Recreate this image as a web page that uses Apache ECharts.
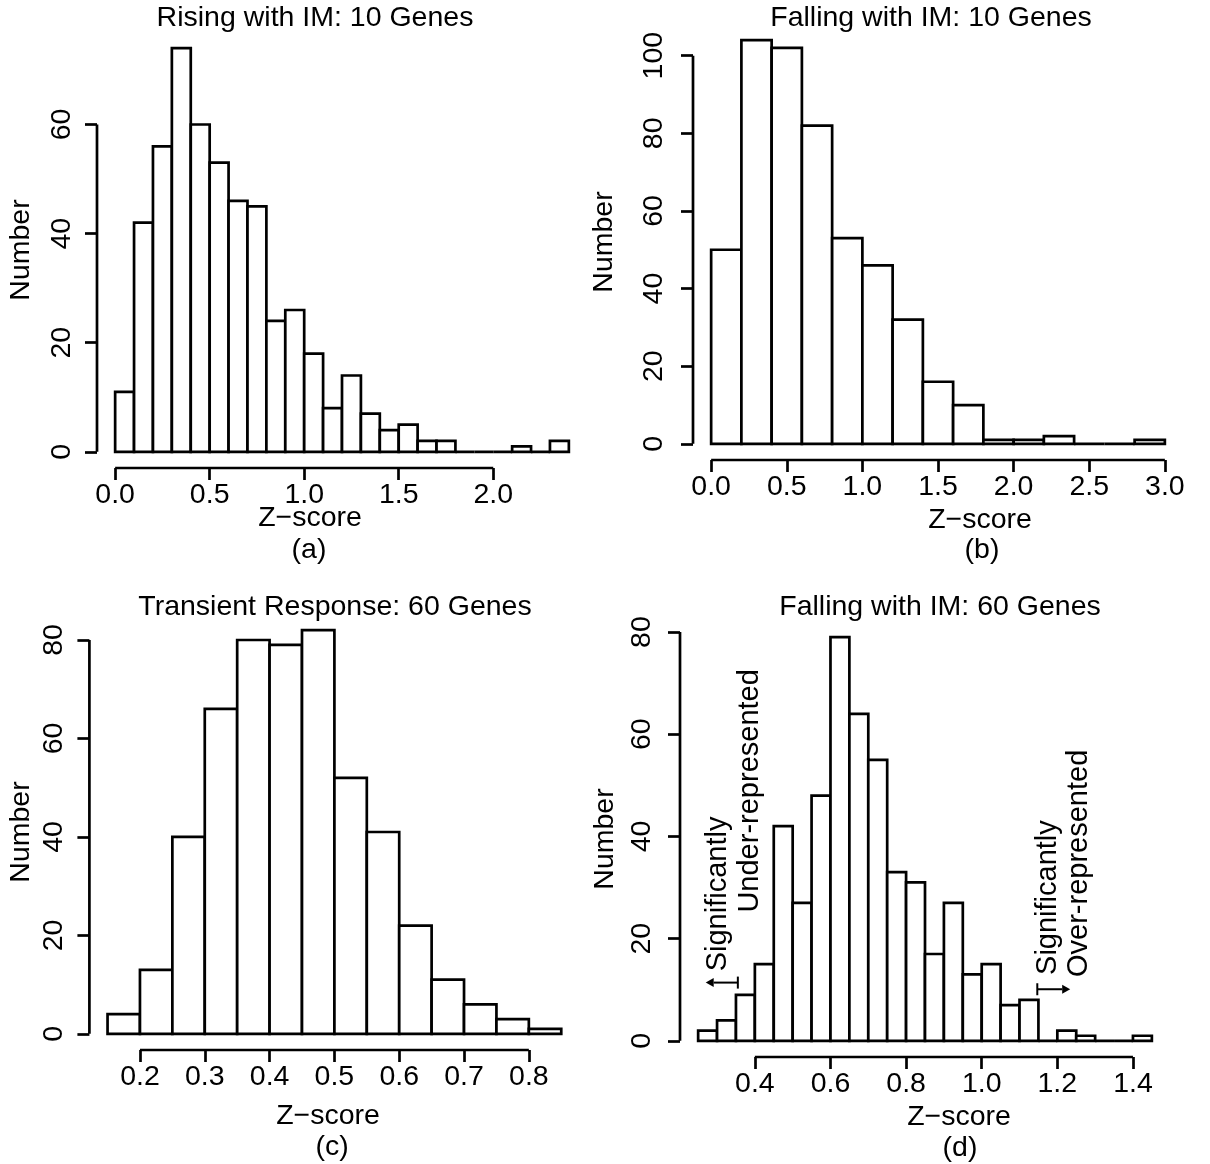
<!DOCTYPE html>
<html>
<head>
<meta charset="utf-8">
<title>Z-score histograms</title>
<script src="https://cdn.jsdelivr.net/npm/echarts@6/dist/echarts.min.js"></script>
<style>
    html, body { margin: 0; padding: 0; background: #fff; }
    #main { width: 1210px; height: 1164px; }
</style>
</head>
<body>
<div id="main"></div>
<script>
// (a) Rising with IM: 10 Genes
var aEdges = [0.0, 0.1, 0.2, 0.3, 0.4, 0.5, 0.6, 0.7, 0.8, 0.9, 1.0, 1.1, 1.2, 1.3, 1.4, 1.5, 1.6, 1.7, 1.8, 1.9, 2.0, 2.1, 2.2, 2.3, 2.4];
var aCounts = [11, 42, 56, 74, 60, 53, 46, 45, 24, 26, 18, 8, 14, 7, 4, 5, 2, 2, 0, 0, 0, 1, 0, 2];
var aXTicks = [0.0, 0.5, 1.0, 1.5, 2.0];
var aYTicks = [0, 20, 40, 60];

// (b) Falling with IM: 10 Genes
var bEdges = [0.0, 0.2, 0.4, 0.6, 0.8, 1.0, 1.2, 1.4, 1.6, 1.8, 2.0, 2.2, 2.4, 2.6, 2.8, 3.0];
var bCounts = [50, 104, 102, 82, 53, 46, 32, 16, 10, 1, 1, 2, 0, 0, 1];
var bXTicks = [0.0, 0.5, 1.0, 1.5, 2.0, 2.5, 3.0];
var bYTicks = [0, 20, 40, 60, 80, 100];

// (c) Transient Response: 60 Genes
var cEdges = [0.15, 0.20, 0.25, 0.30, 0.35, 0.40, 0.45, 0.50, 0.55, 0.60, 0.65, 0.70, 0.75, 0.80, 0.85];
var cCounts = [4, 13, 40, 66, 80, 79, 82, 52, 41, 22, 11, 6, 3, 1];
var cXTicks = [0.2, 0.3, 0.4, 0.5, 0.6, 0.7, 0.8];
var cYTicks = [0, 20, 40, 60, 80];

// (d) Falling with IM: 60 Genes
var dEdges = [0.25, 0.30, 0.35, 0.40, 0.45, 0.50, 0.55, 0.60, 0.65, 0.70, 0.75, 0.80, 0.85, 0.90, 0.95, 1.00, 1.05, 1.10, 1.15, 1.20, 1.25, 1.30, 1.35, 1.40, 1.45];
var dCounts = [2, 4, 9, 15, 42, 27, 48, 79, 64, 55, 33, 31, 17, 27, 13, 15, 7, 8, 0, 2, 1, 0, 0, 1];
var dXTicks = [0.4, 0.6, 0.8, 1.0, 1.2, 1.4];
var dYTicks = [0, 20, 40, 60, 80];

// notes of panel (d), anchored in data space: [x, y of text start]
var dNotes = ['Significantly', 'Under-represented', 'Significantly', 'Over-represented'];
var dNoteAt = [[0.302, 13.6], [0.388, 25.1], [1.176, 12.9], [1.256, 12.5]];
// arrows: [x of bar end, x of arrow tip, y]
var dArrows = [[0.355, 0.27, 11.4], [1.147, 1.234, 10.1]];

var FONT = '"Liberation Sans", Arial, Helvetica, sans-serif';
var FS = 28.5;
var LW = 2.7;

var panels = [
    {edges: aEdges, counts: aCounts, xTicks: aXTicks, yTicks: aYTicks,
        left: 97, top: 32, labMargin: 20, nameGap: 61,
        title: 'Rising with IM: 10 Genes', titleX: 315, titleY: 18,
        xlabX: 310, xlabY: 518, tag: '(a)', tagX: 309, tagY: 550},
    {edges: bEdges, counts: bCounts, xTicks: bXTicks, yTicks: bYTicks,
        left: 693, top: 24, labMargin: 24, nameGap: 74,
        title: 'Falling with IM: 10 Genes', titleX: 931, titleY: 18,
        xlabX: 980, xlabY: 520, tag: '(b)', tagX: 982, tagY: 550},
    {edges: cEdges, counts: cCounts, xTicks: cXTicks, yTicks: cYTicks,
        left: 89.4, top: 614, labMargin: 21, nameGap: 54,
        title: 'Transient Response: 60 Genes', titleX: 335, titleY: 607,
        xlabX: 328, xlabY: 1116, tag: '(c)', tagX: 332, tagY: 1147},
    {edges: dEdges, counts: dCounts, xTicks: dXTicks, yTicks: dYTicks,
        left: 680, top: 621, labMargin: 23, nameGap: 60,
        title: 'Falling with IM: 60 Genes', titleX: 940, titleY: 607,
        xlabX: 959, xlabY: 1117, tag: '(d)', tagX: 960, tagY: 1148}
];

function renderBar(params, api) {
    var a = api.coord([api.value(0), 0]);
    var b = api.coord([api.value(1), api.value(2)]);
    return {
        type: 'polygon',
        shape: {points: [[a[0], a[1]], [a[0], b[1]], [b[0], b[1]], [b[0], a[1]]]},
        style: {fill: '#fff', stroke: '#000', lineWidth: LW}
    };
}

// R style axis lines: only from first to last tick
function axisLines(p, xMin, yMin) {
    return function (params, api) {
        var x0 = api.coord([p.xTicks[0], yMin]);
        var x1 = api.coord([p.xTicks[p.xTicks.length - 1], yMin]);
        var y0 = api.coord([xMin, p.yTicks[0]]);
        var y1 = api.coord([xMin, p.yTicks[p.yTicks.length - 1]]);
        var st = {stroke: '#000', lineWidth: LW};
        return {
            type: 'group',
            children: [
                {type: 'line', shape: {x1: x0[0], y1: x0[1], x2: x1[0], y2: x1[1]}, style: st},
                {type: 'line', shape: {x1: y0[0], y1: y0[1], x2: y1[0], y2: y1[1]}, style: st}
            ]
        };
    };
}

function renderNotes(params, api) {
    var kids = [];
    for (var i = 0; i < dNotes.length; i++) {
        var pt = api.coord(dNoteAt[i]);
        kids.push({
            type: 'text', x: pt[0], y: pt[1], rotation: Math.PI / 2,
            style: {text: dNotes[i], fill: '#000', font: '29px ' + FONT, align: 'left', verticalAlign: 'middle'}
        });
    }
    for (var j = 0; j < dArrows.length; j++) {
        var cap = api.coord([dArrows[j][0], dArrows[j][2]]);
        var tip = api.coord([dArrows[j][1], dArrows[j][2]]);
        var dir = tip[0] > cap[0] ? 1 : -1;
        var head = 8;
        var st = {stroke: '#000', lineWidth: 2};
        kids.push({type: 'line', shape: {x1: cap[0], y1: cap[1], x2: tip[0] - dir * head, y2: tip[1]}, style: st});
        kids.push({type: 'line', shape: {x1: cap[0], y1: cap[1] - 6, x2: cap[0], y2: cap[1] + 6}, style: st});
        kids.push({
            type: 'polygon',
            shape: {points: [[tip[0], tip[1]], [tip[0] - dir * head, tip[1] - 4.5], [tip[0] - dir * head, tip[1] + 4.5]]},
            style: {fill: '#000'}
        });
    }
    return {type: 'group', children: kids};
}

var option = {
    animation: false,
    backgroundColor: '#fff',
    grid: [],
    xAxis: [],
    yAxis: [],
    series: [],
    graphic: []
};

panels.forEach(function (p, i) {
    var lo = p.edges[0], hi = p.edges[p.edges.length - 1];
    var maxCount = Math.max.apply(null, p.counts);
    var xMin = lo - 0.04 * (hi - lo), xMax = hi + 0.04 * (hi - lo);
    var yMin = -0.04 * maxCount, yMax = 1.04 * maxCount;
    var tickStyle = {color: '#000', width: LW};
    var textStyle = {color: '#000', fontSize: FS, fontFamily: FONT};

    option.grid.push({left: p.left, top: p.top, width: 490, height: 436, outerBoundsMode: 'none'});

    option.xAxis.push({
        type: 'value', gridIndex: i, min: xMin, max: xMax,
        axisLine: {show: false, onZero: false},
        splitLine: {show: false},
        axisTick: {show: true, customValues: p.xTicks, length: 12, lineStyle: tickStyle},
        axisLabel: {
            customValues: p.xTicks, margin: 13, color: '#000', fontSize: FS, fontFamily: FONT,
            formatter: function (v) { return v.toFixed(1); }
        }
    });

    option.yAxis.push({
        type: 'value', gridIndex: i, min: yMin, max: yMax,
        name: 'Number', nameLocation: 'middle', nameRotate: 90, nameGap: p.nameGap,
        nameTextStyle: textStyle,
        axisLine: {show: false, onZero: false},
        splitLine: {show: false},
        axisTick: {show: true, customValues: p.yTicks, length: 12, lineStyle: tickStyle},
        axisLabel: {
            customValues: p.yTicks, rotate: 90, margin: p.labMargin,
            color: '#000', fontSize: FS, fontFamily: FONT,
            formatter: function (v) { return String(Math.round(v)); }
        }
    });

    var bars = [];
    for (var k = 0; k < p.counts.length; k++) {
        bars.push([p.edges[k], p.edges[k + 1], p.counts[k]]);
    }

    option.series.push({
        type: 'custom', xAxisIndex: i, yAxisIndex: i, silent: true, clip: false,
        encode: {x: [0, 1], y: 2},
        data: bars,
        renderItem: renderBar
    });

    option.series.push({
        type: 'custom', xAxisIndex: i, yAxisIndex: i, silent: true, clip: false,
        encode: {x: 0, y: 1},
        data: [[p.xTicks[0], 0]],
        renderItem: axisLines(p, xMin, yMin)
    });

    var labels = [[p.title, p.titleX, p.titleY], ['Z\u2212score', p.xlabX, p.xlabY], [p.tag, p.tagX, p.tagY]];
    labels.forEach(function (t) {
        option.graphic.push({
            type: 'text', x: t[1], y: t[2], silent: true,
            style: {text: t[0], fill: '#000', font: FS + 'px ' + FONT, align: 'center', verticalAlign: 'middle'}
        });
    });
});

option.series.push({
    type: 'custom', xAxisIndex: 3, yAxisIndex: 3, silent: true, clip: false,
    encode: {x: 0, y: 1},
    data: [[dXTicks[0], 0]],
    renderItem: renderNotes
});

var chart = echarts.init(document.getElementById('main'));
chart.setOption(option);
</script>
</body>
</html>
